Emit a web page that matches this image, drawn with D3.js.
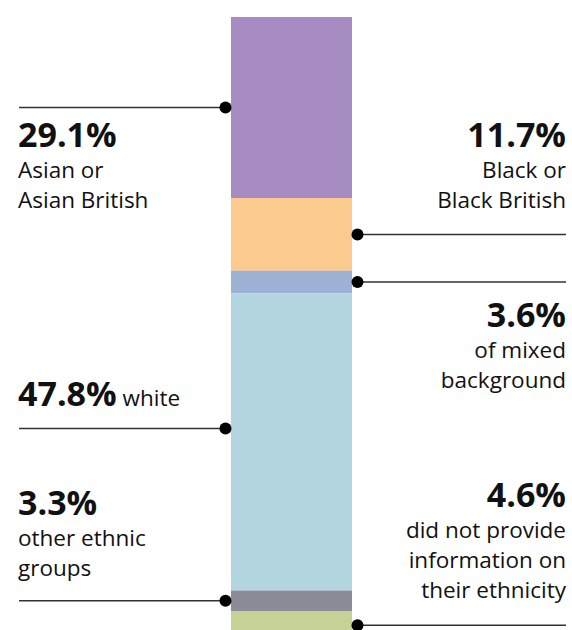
<!DOCTYPE html>
<html>
<head>
<meta charset="utf-8">
<script src="https://cdn.jsdelivr.net/npm/d3@7"></script>
<style>
  body { margin: 0; background: #fff; }
  svg { display: block; font-family: "Open Sans", "Noto Sans", sans-serif; }
</style>
</head>
<body>
<div class="container"></div>
<script>
// share of staff by ethnicity, top to bottom of the bar
var groups = ['Asian or Asian British', 'Black or Black British', 'Mixed', 'White', 'Other', 'Not provided']
var shares = [29.1, 11.7, 3.6, 47.8, 3.3, 4.6]
var pctLabels = ['29.1%', '11.7%', '3.6%', '47.8%', '3.3%', '4.6%']
var descLabels = [
  ['Asian or', 'Asian British'],
  ['Black or', 'Black British'],
  ['of mixed', 'background'],
  ['white'],
  ['other ethnic', 'groups'],
  ['did not provide', 'information on', 'their ethnicity']
]
var colors = ['#a68cc2', '#fbca8f', '#9db1d4', '#b3d5df', '#8c8c99', '#c4d296']

// annotation layout: side, where the dot sits in the segment, baseline of the % text
var layout = [
  { side: 'left', at: 0.5, top: 147 },
  { side: 'right', at: 0.5, top: 147 },
  { side: 'right', at: 0.5, top: 327 },
  { side: 'left', at: 0.455, top: 406, inline: true },
  { side: 'left', at: 0.5, top: 515 },
  { side: 'right', at: 0.5, top: 507 }
]

var width = 572, height = 630
var barX = 231, barW = 121

var stacked = []
var acc = 0
shares.forEach(function(v, i) {
  stacked.push({ i: i, y0: acc, y1: acc + v })
  acc += v
})

var y = d3.scaleLinear().domain([0, 100]).range([17, 639])

var svg = d3.select('.container')
  .append('svg')
    .attr('width', width)
    .attr('height', height)

svg.selectAll('rect.seg')
  .data(stacked)
  .enter()
  .append('rect')
    .attr('class', 'seg')
    .attr('x', barX)
    .attr('width', barW)
    .attr('y', function(d) { return y(d.y0) })
    .attr('height', function(d) { return y(d.y1) - y(d.y0) })
    .attr('fill', function(d) { return colors[d.i] })

var ann = svg.selectAll('g.ann')
  .data(stacked)
  .enter()
  .append('g')
    .attr('class', 'ann')

function dotX(d) { return layout[d.i].side === 'left' ? barX - 5.5 : barX + barW + 5.5 }
function dotY(d) { return y(d.y0) + (y(d.y1) - y(d.y0)) * layout[d.i].at }

ann.append('line')
  .attr('x1', function(d) { return layout[d.i].side === 'left' ? 19 : 566 })
  .attr('x2', dotX)
  .attr('y1', dotY)
  .attr('y2', dotY)
  .attr('stroke', '#333')
  .attr('stroke-width', 1.5)

ann.append('circle')
  .attr('cx', dotX)
  .attr('cy', dotY)
  .attr('r', 6)
  .attr('fill', '#000')

var txt = ann.append('text')
  .attr('x', function(d) { return layout[d.i].side === 'left' ? 18 : 566 })
  .attr('y', function(d) { return layout[d.i].top })
  .attr('text-anchor', function(d) { return layout[d.i].side === 'left' ? 'start' : 'end' })
  .attr('fill', '#111')

txt.append('tspan')
  .attr('font-size', 34)
  .attr('font-weight', 700)
  .text(function(d) { return pctLabels[d.i] })

txt.each(function(d) {
  var t = d3.select(this)
  var lo = layout[d.i]
  descLabels[d.i].forEach(function(s, k) {
    var sp = t.append('tspan')
      .attr('font-size', 22.5)
      .text(lo.inline ? ' ' + s : s)
    if (!lo.inline) {
      sp.attr('x', lo.side === 'left' ? 18 : 566)
        .attr('y', lo.top + 31 + k * 30)
    }
  })
})
</script>
</body>
</html>
